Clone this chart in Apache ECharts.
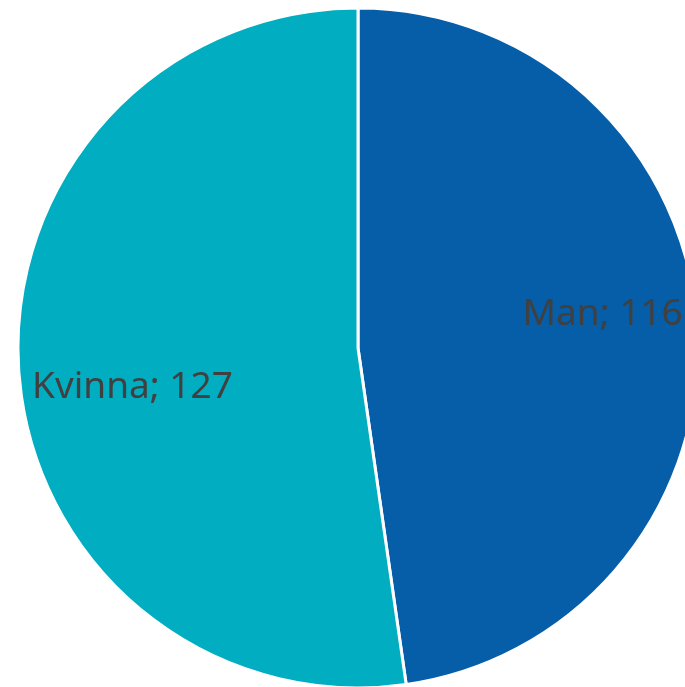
<!DOCTYPE html>
<html>
<head>
<meta charset="utf-8">
<script src="https://cdn.jsdelivr.net/npm/echarts@6/dist/echarts.min.js"></script>
<style>html,body{margin:0;padding:0;background:#fff;}#chart{width:685px;height:687px;}</style>
</head>
<body>
<div id="chart"></div>
<script>
const categories = ['Man', 'Kvinna'];
const values = [116, 127];
const colors = ['#065DA8', '#00ADC1'];
const labelOffsets = [[72, -21], [-53, 27]];

const chart = echarts.init(document.getElementById('chart'));
chart.setOption({
  animation: false,
  series: [{
    type: 'pie',
    center: [358, 348],
    radius: [0, 340],
    startAngle: 90,
    clockwise: true,
    avoidLabelOverlap: false,
    itemStyle: { borderColor: '#ffffff', borderWidth: 3 },
    label: {
      show: true,
      position: 'inside',
      formatter: '{b}; {c}',
      fontFamily: 'Noto Sans',
      fontSize: 37,
      color: '#404040'
    },
    labelLine: { show: false },
    data: categories.map((c, i) => ({
      name: c,
      value: values[i],
      itemStyle: { color: colors[i] },
      label: { offset: labelOffsets[i] }
    }))
  }]
});
</script>
</body>
</html>
